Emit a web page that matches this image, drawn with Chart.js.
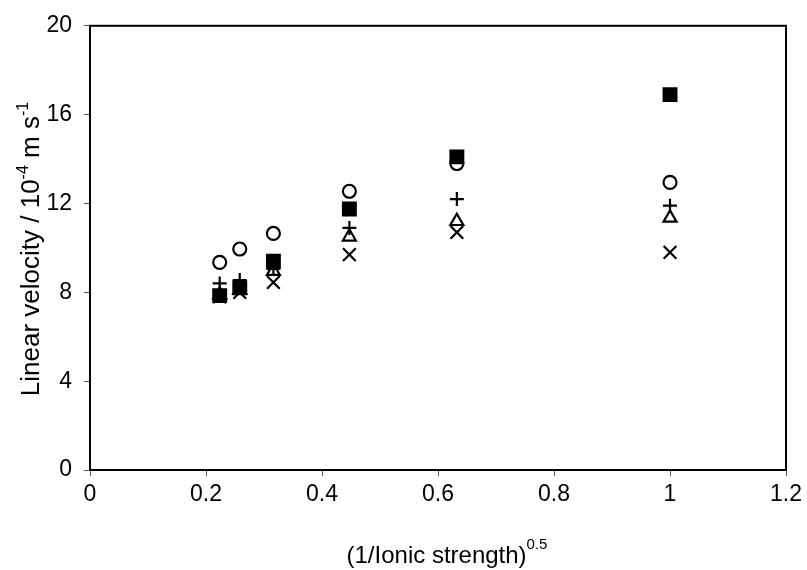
<!DOCTYPE html>
<html>
<head>
<meta charset="utf-8">
<script src="https://cdn.jsdelivr.net/npm/chart.js@4"></script>
<style>
  html, body { margin: 0; padding: 0; background: #fff; }
  #wrap { width: 807px; height: 570px; }
</style>
</head>
<body>
<div id="wrap"><canvas id="chart" width="807" height="570"></canvas></div>
<script>
// (1/I)^0.5 for I = 20, 15, 10, 5, 2.5, 1
const xValues = [0.2236, 0.2582, 0.3162, 0.4472, 0.6325, 1.0];

const squares   = [7.85, 8.2, 9.4, 11.75, 14.1, 16.9];
const circles   = [9.35, 9.95, 10.65, 12.55, 13.8, 12.95];
const pluses    = [8.4, 8.55, 9.05, 10.9, 12.2, 11.9];
const triangles = [7.9, 8.1, 8.95, 10.5, 11.2, 11.35];
const crosses   = [7.8, 8.0, 8.45, 9.7, 10.7, 9.8];

const xTicks = [0, 0.2, 0.4, 0.6, 0.8, 1, 1.2];
const yTicks = [0, 4, 8, 12, 16, 20];

const FONT = '"Liberation Sans", Arial, sans-serif';

function pts(ys) {
  return xValues.map((x, i) => ({ x, y: ys[i] }));
}

function series(ys, style, radius, filled) {
  return {
    data: pts(ys),
    pointStyle: style,
    pointRadius: radius,
    pointHoverRadius: radius,
    pointBorderWidth: 2.2,
    borderColor: '#000',
    backgroundColor: filled ? '#000' : 'rgba(0,0,0,0)',
    showLine: false
  };
}

// frame round the plot area + axis titles with real superscripts
const framePlugin = {
  id: 'frame',
  afterDraw(chart) {
    const { ctx, chartArea: a } = chart;
    ctx.save();
    ctx.strokeStyle = '#000';
    ctx.lineWidth = 2;
    ctx.strokeRect(a.left, a.top, a.right - a.left, a.bottom - a.top);

    ctx.fillStyle = '#000';
    ctx.textBaseline = 'alphabetic';
    ctx.textAlign = 'left';

    // x title
    const main = '(1/Ionic strength)';
    const sup = '0.5';
    ctx.font = '24px ' + FONT;
    const w1 = ctx.measureText(main).width;
    ctx.font = '15px ' + FONT;
    const w2 = ctx.measureText(sup).width;
    let x0 = 447 - (w1 + w2) / 2;
    ctx.font = '24px ' + FONT;
    ctx.fillText(main, x0, 563);
    ctx.font = '15px ' + FONT;
    ctx.fillText(sup, x0 + w1, 549);

    // y title (rotated)
    ctx.translate(39, 249);
    ctx.rotate(-Math.PI / 2);
    const parts = [
      ['Linear velocity / 10', 26, 0],
      ['-4', 16, -11],
      [' m s', 26, 0],
      ['-1', 16, -11]
    ];
    let total = 0;
    parts.forEach(p => { ctx.font = p[1] + 'px ' + FONT; total += ctx.measureText(p[0]).width; });
    let cx = -total / 2;
    parts.forEach(p => {
      ctx.font = p[1] + 'px ' + FONT;
      ctx.fillText(p[0], cx, p[2]);
      cx += ctx.measureText(p[0]).width;
    });
    ctx.restore();
  }
};

new Chart(document.getElementById('chart'), {
  type: 'scatter',
  data: {
    datasets: [
      series(crosses, 'crossRot', 9, false),
      series(triangles, 'triangle', 7.5, false),
      series(pluses, 'cross', 7, false),
      series(circles, 'circle', 6.5, false),
      series(squares, 'rect', 9, true)
    ]
  },
  options: {
    responsive: false,
    animation: false,
    layout: { padding: { top: 25, right: 17, left: 0, bottom: 0 } },
    plugins: { legend: { display: false }, tooltip: { enabled: false } },
    scales: {
      x: {
        type: 'linear',
        min: 0, max: 1.2,
        afterBuildTicks: s => { s.ticks = xTicks.map(v => ({ value: v })); },
        afterFit: s => { s.height = 100; },
        border: { display: true, color: '#000', width: 2 },
        grid: { drawOnChartArea: false, color: '#555', tickLength: 6, lineWidth: 1 },
        ticks: {
          color: '#000', padding: 5, maxRotation: 0,
          font: { family: FONT, size: 23 },
          callback: v => String(v)
        }
      },
      y: {
        type: 'linear',
        min: 0, max: 20,
        afterBuildTicks: s => { s.ticks = yTicks.map(v => ({ value: v })); },
        afterFit: s => { s.width = 90; },
        border: { display: true, color: '#000', width: 2 },
        grid: { drawOnChartArea: false, color: '#555', tickLength: 6, lineWidth: 1 },
        ticks: { color: '#000', padding: 12, font: { family: FONT, size: 23 } }
      }
    }
  },
  plugins: [framePlugin]
});
</script>
</body>
</html>
